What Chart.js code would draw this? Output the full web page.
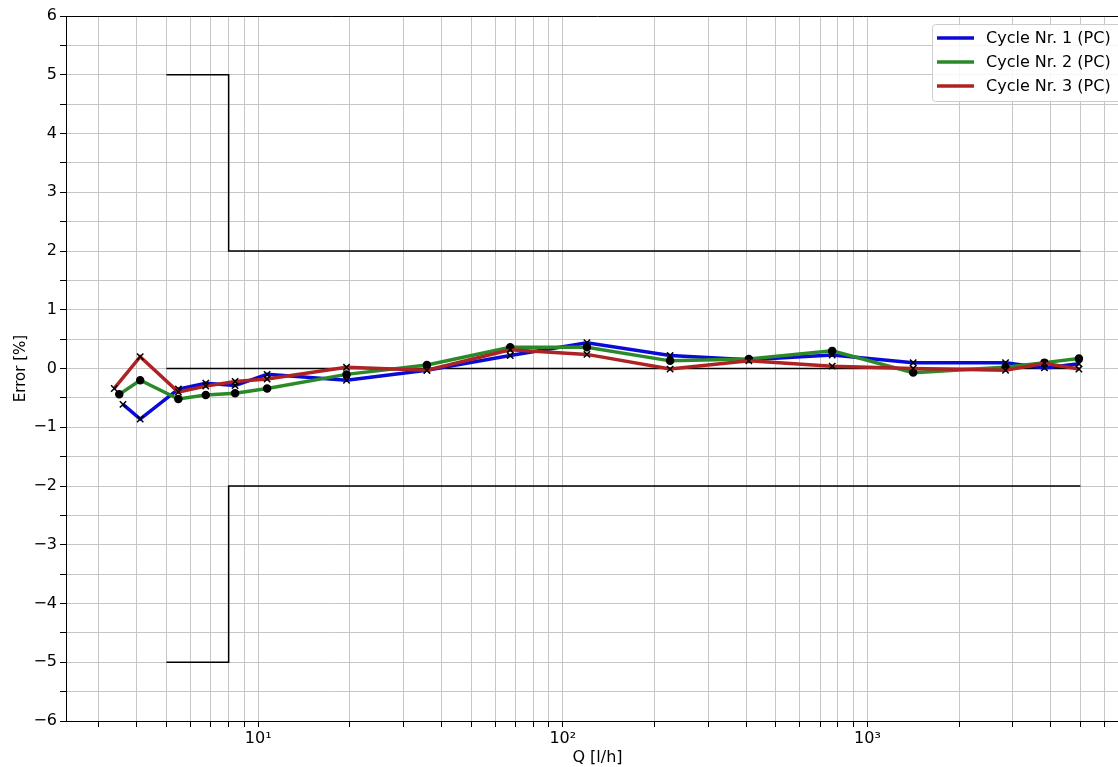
<!DOCTYPE html>
<html lang="en">
<head>
    <meta charset="UTF-8">
    <title>Error curve</title>
    <script src="https://cdn.jsdelivr.net/npm/chart.js"></script>
    <style>
        body {
            margin: 0;
            padding: 0;
            background: #fff;
            overflow: hidden;
        }
        #wrap {
            width: 1140px;
            height: 767px;
        }
    </style>
</head>
<body>
    <div id="wrap">
        <canvas id="errorChart" width="1140" height="767"></canvas>
    </div>

    <script>
        // Flow rates [l/h] per cycle (only the first point differs)
        const qCycle1 = [3.60, 4.10, 5.47, 6.73, 8.40, 10.7, 19.5, 35.8, 67.2, 120, 225, 408, 766, 1413, 2840, 3810, 4945];
        const qCycle2 = [3.50, 4.10, 5.47, 6.73, 8.40, 10.7, 19.5, 35.8, 67.2, 120, 225, 408, 766, 1413, 2840, 3810, 4945];
        const qCycle3 = [3.37, 4.10, 5.47, 6.73, 8.40, 10.7, 19.5, 35.8, 67.2, 120, 225, 408, 766, 1413, 2840, 3810, 4945];

        // Error [%]
        const errCycle1 = [-0.61, -0.86, -0.35, -0.25, -0.29, -0.10, -0.20, -0.03, 0.22, 0.44, 0.22, 0.15, 0.23, 0.10, 0.10, 0.01, 0.08];
        const errCycle2 = [-0.44, -0.20, -0.52, -0.45, -0.42, -0.34, -0.10, 0.06, 0.36, 0.36, 0.13, 0.16, 0.30, -0.07, 0.02, 0.10, 0.17];
        const errCycle3 = [-0.34, 0.20, -0.40, -0.30, -0.22, -0.18, 0.02, -0.03, 0.32, 0.24, -0.01, 0.13, 0.04, 0.00, -0.03, 0.09, -0.01];

        // Permissible error envelope
        const qLimit = [5, 8, 8, 5000];
        const upperLimit = [5, 5, 2, 2];
        const lowerLimit = [-5, -5, -2, -2];
        const qZero = [5, 5000];
        const zeroLine = [0, 0];

        const cycleLabels = ["Cycle Nr. 1 (PC)", "Cycle Nr. 2 (PC)", "Cycle Nr. 3 (PC)"];
        const cycleColors = ["#0a0ad6", "#2a8a2a", "#ad2323"];

        const xMin = 2.34, xMax = 7220;
        const FONT = "'DejaVu Sans', sans-serif";

        function pts(xs, ys) {
            return xs.map((x, i) => ({ x: x, y: ys[i] }));
        }

        function limitSet(xs, ys) {
            return {
                data: pts(xs, ys),
                borderColor: "#000",
                borderWidth: 1.5,
                pointRadius: 0,
                fill: false,
                order: 10
            };
        }

        function cycleSet(i, xs, ys, marker) {
            return {
                label: cycleLabels[i],
                data: pts(xs, ys),
                borderColor: cycleColors[i],
                borderWidth: 3.5,
                pointStyle: marker,
                pointRadius: marker === "circle" ? 3.5 : 4.5,
                pointBorderColor: "#000",
                pointBackgroundColor: "#000",
                pointBorderWidth: 1.5,
                fill: false,
                order: 3 - i
            };
        }

        // legend inside the plot, top right, plus top/right spines
        const framePlugin = {
            id: "frame",
            afterDraw(chart) {
                const ctx = chart.ctx;
                const a = chart.chartArea;
                ctx.save();
                ctx.strokeStyle = "#000";
                ctx.lineWidth = 1;
                ctx.beginPath();
                ctx.moveTo(a.left, a.top + 0.5);
                ctx.lineTo(a.right, a.top + 0.5);
                ctx.lineTo(a.right, a.bottom);
                ctx.stroke();

                const bx = 932, by = 24, bw = 190, bh = 77;
                ctx.fillStyle = "rgba(255,255,255,0.85)";
                ctx.strokeStyle = "#cccccc";
                ctx.beginPath();
                ctx.roundRect(bx + 0.5, by + 0.5, bw, bh, 3);
                ctx.fill();
                ctx.stroke();

                ctx.font = "16px " + FONT;
                ctx.textBaseline = "middle";
                ctx.fillStyle = "#000";
                for (let i = 0; i < cycleLabels.length; i++) {
                    const y = 38 + i * 24;
                    ctx.strokeStyle = cycleColors[i];
                    ctx.lineWidth = 3.5;
                    ctx.beginPath();
                    ctx.moveTo(937, y);
                    ctx.lineTo(974, y);
                    ctx.stroke();
                    ctx.fillText(cycleLabels[i], 986, y + 1);
                }
                ctx.restore();
            }
        };

        const supers = { 1: "\u00b9", 2: "\u00b2", 3: "\u00b3" };

        new Chart(document.getElementById("errorChart").getContext("2d"), {
            type: "line",
            data: {
                datasets: [
                    limitSet(qLimit, upperLimit),
                    limitSet(qLimit, lowerLimit),
                    limitSet(qZero, zeroLine),
                    cycleSet(0, qCycle1, errCycle1, "crossRot"),
                    cycleSet(1, qCycle2, errCycle2, "circle"),
                    cycleSet(2, qCycle3, errCycle3, "crossRot")
                ]
            },
            options: {
                responsive: false,
                animation: false,
                devicePixelRatio: 1,
                layout: { padding: { top: 16, right: 11, left: 0, bottom: 0 } },
                plugins: {
                    legend: { display: false },
                    tooltip: { enabled: false }
                },
                scales: {
                    x: {
                        type: "logarithmic",
                        min: xMin,
                        max: xMax,
                        afterBuildTicks(scale) {
                            const t = [];
                            for (let e = 0; e <= 3; e++) {
                                for (let m = 1; m <= 9; m++) {
                                    const v = m * Math.pow(10, e);
                                    if (v >= xMin && v <= xMax) t.push({ value: v });
                                }
                            }
                            scale.ticks = t;
                        },
                        afterFit(scale) { scale.height = 46; },
                        ticks: {
                            autoSkip: false,
                            maxRotation: 0,
                            padding: 2,
                            color: "#000",
                            font: { family: FONT, size: 16 },
                            callback(v) {
                                const e = Math.log10(v);
                                return Math.abs(e - Math.round(e)) < 1e-9 ? "10" + supers[Math.round(e)] : "";
                            }
                        },
                        grid: { color: "#c6c6c6", lineWidth: 1, tickLength: 6, tickColor: "#000" },
                        border: { color: "#000", width: 1 },
                        title: {
                            display: true,
                            text: "Q [l/h]",
                            color: "#000",
                            font: { family: FONT, size: 16 },
                            padding: { top: 0, bottom: 0 }
                        }
                    },
                    y: {
                        min: -6,
                        max: 6,
                        afterFit(scale) { scale.width = 66; },
                        ticks: {
                            stepSize: 0.5,
                            padding: 3,
                            color: "#000",
                            font: { family: FONT, size: 16 },
                            callback(v) {
                                if (Math.abs(v - Math.round(v)) > 1e-9) return "";
                                return v < 0 ? "\u2212" + Math.abs(v) : String(v);
                            }
                        },
                        grid: { color: "#c6c6c6", lineWidth: 1, tickLength: 6, tickColor: "#000" },
                        border: { color: "#000", width: 1 },
                        title: {
                            display: true,
                            text: "Error [%]",
                            color: "#000",
                            font: { family: FONT, size: 15 },
                            padding: { top: 12, bottom: 0 }
                        }
                    }
                }
            },
            plugins: [framePlugin]
        });
    </script>
</body>
</html>
